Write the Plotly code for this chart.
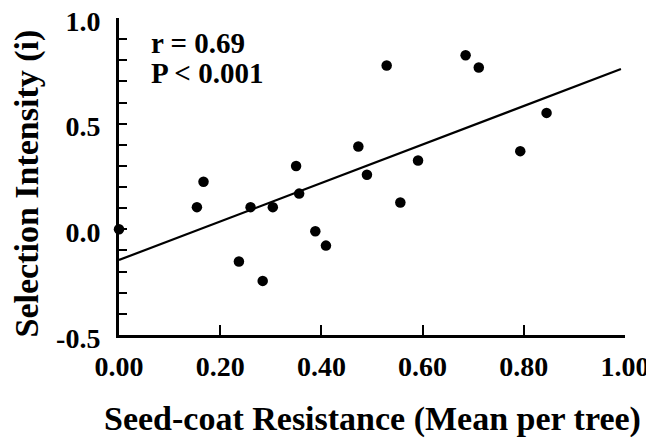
import plotly.graph_objects as go

# Data
resistance = [0.000, 0.154, 0.167, 0.237, 0.260, 0.284, 0.304, 0.350, 0.356, 0.388,
              0.409, 0.473, 0.490, 0.529, 0.556, 0.591, 0.685, 0.711, 0.793, 0.845]
selection = [0.000, 0.105, 0.225, -0.152, 0.105, -0.244, 0.105, 0.300, 0.169, -0.009,
             -0.077, 0.392, 0.258, 0.775, 0.127, 0.326, 0.824, 0.766, 0.370, 0.551]

fit_intercept = -0.145
fit_slope = 0.911
fit_x = [0.0, 0.992]
fit_y = [fit_intercept + fit_slope * v for v in fit_x]

x_tickvals = [0.0, 0.2, 0.4, 0.6, 0.8, 1.0]
x_ticktext = ["0.00", "0.20", "0.40", "0.60", "0.80", "1.00"]
y_tickvals = [-0.5, -0.4, -0.3, -0.2, -0.1, 0.0, 0.1, 0.2, 0.3, 0.4, 0.5, 0.6, 0.7, 0.8, 0.9, 1.0]
y_ticktext = ["-0.5", "", "", "", "", "0.0", "", "", "", "", "0.5", "", "", "", "", "1.0"]

stats_lines = ["r = 0.69", "P < 0.001"]
stats_y = [0.883, 0.741]
x_title = "Seed-coat Resistance (Mean per tree)"
y_title = "Selection Intensity (i)"

FONT = "Liberation Serif, Times New Roman, serif"

fig = go.Figure()
fig.add_trace(go.Scatter(x=fit_x, y=fit_y, mode="lines",
                         line=dict(color="black", width=2.2), cliponaxis=False,
                         showlegend=False, hoverinfo="skip"))
fig.add_trace(go.Scatter(x=resistance, y=selection, mode="markers",
                         marker=dict(color="black", size=10.5), cliponaxis=False,
                         showlegend=False))

for txt, yy in zip(stats_lines, stats_y):
    fig.add_annotation(x=0.060, y=yy, xref="x", yref="y",
                       text=txt, showarrow=False, xanchor="left", yanchor="middle",
                       font=dict(family=FONT, size=29, color="black", weight="bold"))

fig.add_annotation(x=0.5, y=0, xref="paper", yref="paper", text=x_title,
                   showarrow=False, xanchor="center", yanchor="middle", yshift=-84,
                   font=dict(family=FONT, size=34, color="black", weight="bold"))
fig.add_annotation(x=0, y=0.5, xref="paper", yref="paper", text=y_title,
                   textangle=-90, showarrow=False, xanchor="center", yanchor="middle",
                   xshift=-93, yshift=-7,
                   font=dict(family=FONT, size=34, color="black", weight="bold"))

# the page body adds an 8px offset, so the figure is sized to fit the window
fig.update_layout(
    width=646, height=432,
    margin=dict(l=110.5, r=29, t=10, b=105),
    paper_bgcolor="white", plot_bgcolor="white",
    font=dict(family=FONT, color="black", weight="bold"),
    xaxis=dict(range=[0, 1.0], tickvals=x_tickvals, ticktext=x_ticktext,
               ticks="inside", ticklen=10, tickwidth=1.5, tickcolor="black",
               showline=True, linewidth=3, linecolor="black",
               showgrid=False, zeroline=False, automargin=False,
               ticklabelstandoff=4, ticklabeloverflow="allow",
               tickfont=dict(family=FONT, size=28, color="black", weight="bold")),
    yaxis=dict(range=[-0.5, 1.0], tickvals=y_tickvals, ticktext=y_ticktext,
               ticks="inside", ticklen=8, tickwidth=1.5, tickcolor="black",
               showline=True, linewidth=3, linecolor="black",
               showgrid=False, zeroline=False, automargin=False,
               ticklabelstandoff=10, ticklabelshift=3, ticklabeloverflow="allow",
               tickfont=dict(family=FONT, size=28, color="black", weight="bold")),
)

fig.write_html("out.html")
